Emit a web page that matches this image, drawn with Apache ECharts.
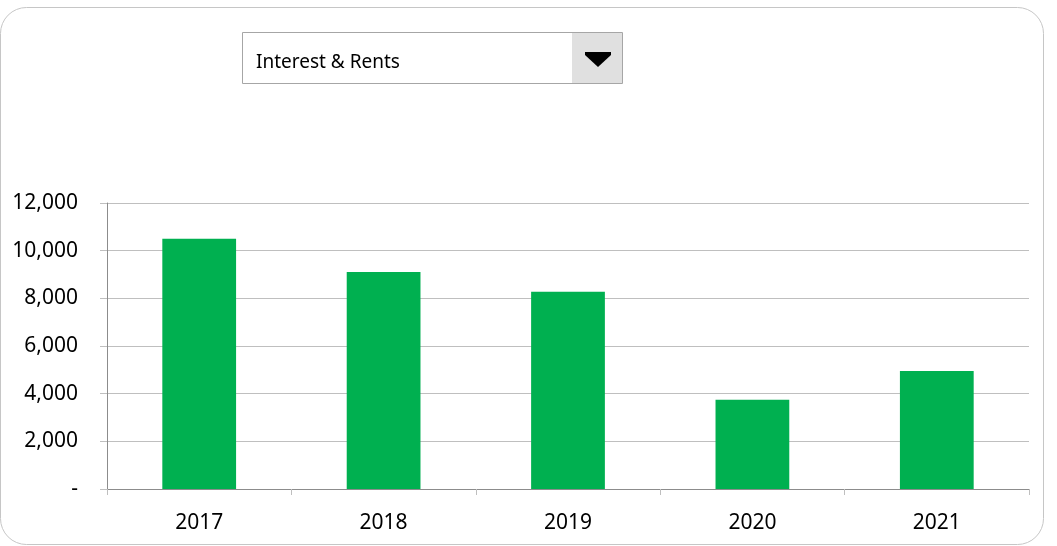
<!DOCTYPE html>
<html>
<head>
<meta charset="utf-8">
<script src="https://cdn.jsdelivr.net/npm/echarts@6/dist/echarts.min.js"></script>
<style>
  html, body { margin: 0; padding: 0; background: #fff; }
  #main { width: 1057px; height: 546px; }
</style>
</head>
<body>
<div id="main"></div>
<script>
var years = ['2017', '2018', '2019', '2020', '2021'];
var values = [10500, 9100, 8280, 3750, 4950];
var selected = 'Interest & Rents';

(function () {
    var chartDom = document.getElementById('main');
    var myChart = echarts.init(chartDom);
    var option;

    option = {
        animation: false,
        textStyle: { fontFamily: 'Noto Sans' },
        graphic: [
            {
                // rounded outer frame
                type: 'rect',
                shape: { x: 0.5, y: 7.5, width: 1043, height: 537, r: 26 },
                style: { fill: 'none', stroke: '#c6c6c6', lineWidth: 1 },
                silent: true
            },
            {
                // dropdown box
                type: 'rect',
                shape: { x: 242.5, y: 32.5, width: 380, height: 51 },
                style: { fill: '#ffffff', stroke: '#a6a6a6', lineWidth: 1 }
            },
            {
                type: 'rect',
                shape: { x: 572, y: 33, width: 50, height: 50 },
                style: { fill: '#e0e0e0' }
            },
            {
                type: 'polygon',
                shape: { points: [[585, 52], [611, 52], [611, 55], [598, 67], [585, 55]] },
                style: { fill: '#000000' }
            },
            {
                type: 'text',
                style: {
                    x: 256,
                    y: 63,
                    text: selected,
                    font: '19px "Noto Sans"',
                    verticalAlign: 'middle',
                    fill: '#000000'
                }
            }
        ],
        grid: {
            left: 107,
            right: 28,
            top: 203,
            bottom: 57
        },
        xAxis: {
            type: 'category',
            data: years,
            axisLine: { lineStyle: { color: '#8c8c8c' } },
            axisTick: { show: true, length: 6, lineStyle: { color: '#bfbfbf' } },
            axisLabel: { color: '#000000', fontSize: 21, margin: 24 }
        },
        yAxis: {
            type: 'value',
            min: 0,
            max: 12000,
            interval: 2000,
            axisLine: { show: true, lineStyle: { color: '#8c8c8c' } },
            axisTick: { show: true, length: 7, lineStyle: { color: '#bfbfbf' } },
            splitLine: { lineStyle: { color: '#bfbfbf' } },
            axisLabel: {
                color: '#000000',
                fontSize: 21,
                margin: 29,
                formatter: function (v) {
                    return v === 0 ? '-' : v.toLocaleString('en-US');
                }
            }
        },
        series: [
            {
                type: 'bar',
                data: values,
                barWidth: '40%',
                itemStyle: { color: '#00b050' }
            }
        ]
    };

    option && myChart.setOption(option);
})();
</script>
</body>
</html>
